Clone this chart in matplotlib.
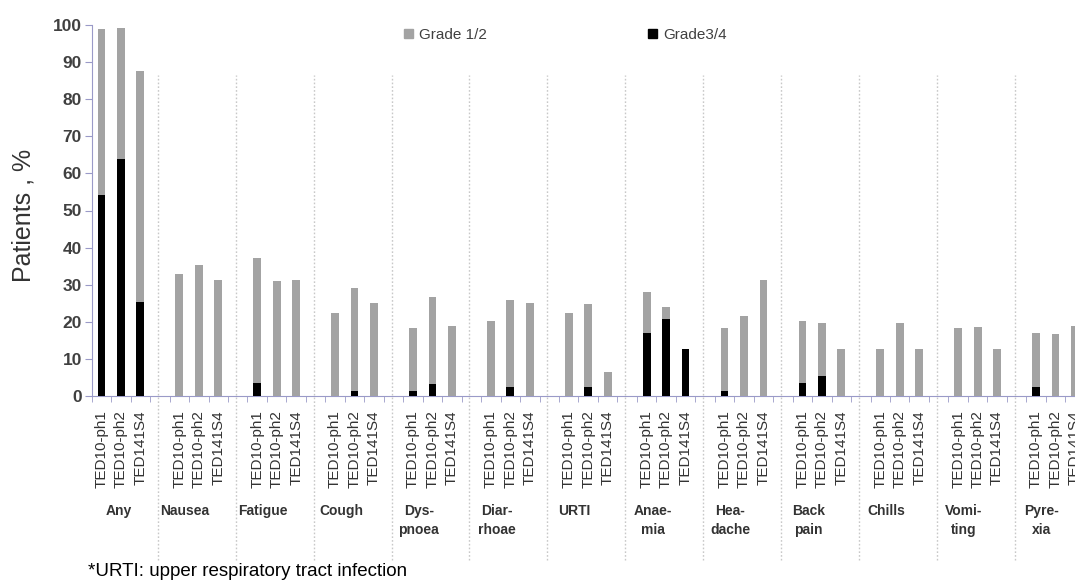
import matplotlib
matplotlib.use("Agg")
import matplotlib.pyplot as plt
from matplotlib.patches import Patch
import numpy as np

plt.rcParams['font.family'] = ['Liberation Sans', 'DejaVu Sans']

# 不良事件分组
groups = ['Any', 'Nausea', 'Fatigue', 'Cough', 'Dys-\npnoea', 'Diar-\nrhoae', 'URTI',
          'Anae-\nmia', 'Hea-\ndache', 'Back\npain', 'Chills', 'Vomi-\nting', 'Pyre-\nxia']
studies = ['TED10-ph1', 'TED10-ph2', 'TED141S4']

# Grade 3/4 (黑色, 底部)
grade34 = [54.2, 64.0, 25.3,
           0, 0, 0,
           3.6, 0, 0,
           0, 1.3, 0,
           1.3, 3.2, 0,
           0, 2.3, 0,
           0, 2.3, 0,
           17.1, 20.7, 12.7,
           1.3, 0, 0,
           3.6, 5.5, 0,
           0, 0, 0,
           0, 0, 0,
           2.5, 0, 0]
# Grade 1/2 (灰色, 叠在上面)
grade12 = [44.6, 35.1, 62.3,
           32.8, 35.3, 31.4,
           33.7, 31.0, 31.4,
           22.5, 27.8, 25.1,
           16.9, 23.6, 18.9,
           20.3, 23.6, 25.1,
           22.5, 22.6, 6.6,
           11.0, 3.2, 0,
           16.9, 21.6, 31.4,
           16.7, 14.1, 12.7,
           12.7, 19.6, 12.7,
           18.2, 18.7, 12.7,
           14.6, 16.6, 18.9]

W, H = 1075, 588
fig = plt.figure(figsize=(W / 100, H / 100), dpi=100)
ax = fig.add_axes([91.7 / W, 1 - 396 / H, 1 - 91.7 / W, (396 - 25) / H])

# 每组4个位置: 3根柱子 + 1个空位
x = np.array([4 * k + j for k in range(len(groups)) for j in range(3)])
ax.bar(x, grade34, width=0.4, color='black', zorder=3)
ax.bar(x, grade12, width=0.4, bottom=grade34, color='#a3a3a3', zorder=3)

ax.set_yticks(range(0, 101, 10))
ax.tick_params(axis='y', labelsize=12.5, colors='#9a9ac8', labelcolor='#404040',
               length=5, pad=2)
for t in ax.get_yticklabels():
    t.set_fontweight('bold')

ax.set_xticks(x)
ax.set_xticklabels(studies * len(groups), rotation=90, fontsize=11, color='#333333')
ax.set_xticks(np.arange(-0.5, 50, 1), minor=True)
ax.tick_params(axis='x', which='major', length=0, pad=10)
ax.tick_params(axis='x', which='minor', length=4, color='#9a9ac8')

# 设置刻度之后再固定范围, 防止被刻度撑大
ax.set_ylim(0, 100)
ax.set_xlim(-0.5, 50.0)

for s in ['top', 'right']:
    ax.spines[s].set_visible(False)
ax.spines['left'].set_color('#9a9ac8')
ax.spines['bottom'].set_color('#9a9ac8')

# 组间虚线分隔
for k in range(len(groups) - 1):
    ax.axvline(4 * k + 2.9, ymin=-0.442, ymax=0.865, color='#c8c8c8', lw=1,
               ls=(0, (1.2, 1.5)), clip_on=False, zorder=1)

# 组标签
for k, g in enumerate(groups):
    xc = 0.9 if k == 0 else 4 * k + 0.3
    ax.text(xc, -0.29, g, transform=ax.get_xaxis_transform(), ha='center', va='top',
            fontsize=10, fontweight='bold', color='#333333', linespacing=1.5)

fig.text(23 / W, 1 - 215 / H, 'Patients , %', rotation=90, ha='center', va='center',
         fontsize=18, color='#333333')

ax.legend(handles=[Patch(color='#a3a3a3'), Patch(color='black')],
          labels=['Grade 1/2', 'Grade3/4'], ncol=2, frameon=False, loc='center left',
          bbox_to_anchor=(404 / W, 1 - 35 / H), bbox_transform=fig.transFigure,
          borderpad=0, borderaxespad=0, handlelength=0.6, handleheight=0.6,
          handletextpad=0.4, columnspacing=10.5, fontsize=11,
          labelcolor='#404040')

fig.text(88 / W, 1 - 571 / H, '*URTI: upper respiratory tract infection',
         ha='left', va='center', fontsize=13.5, color='black')

fig.savefig('out.png', dpi=100)
